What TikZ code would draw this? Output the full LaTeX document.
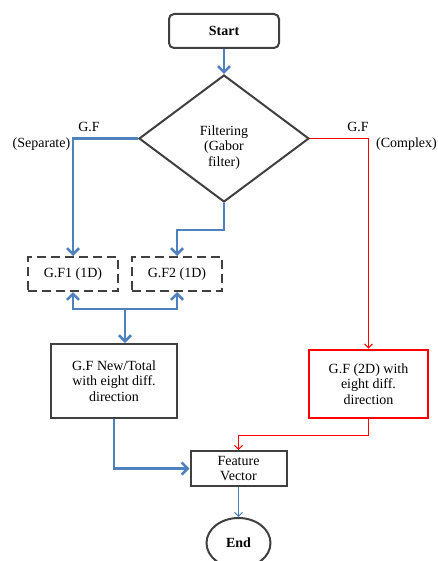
\documentclass[tikz,border=0pt]{standalone}
\usepackage{fontspec}
\setmainfont{Liberation Serif}
\usetikzlibrary{shapes.geometric,arrows.meta}

\begin{document}
\begin{tikzpicture}[x=1pt,y=-1pt,>={Straight Barb[length=6pt,width=12pt]}, line width=2pt, font=\fontsize{14}{15.5}\selectfont]
                \definecolor{flowblue}{RGB}{79,129,189}
                \definecolor{boxgray}{RGB}{64,64,64}
                \tikzstyle{block} = [draw=boxgray, rectangle, align=center, inner sep=0pt]
                \tikzstyle{dashblock} = [block, dash pattern=on 9pt off 5pt, minimum width=90pt, minimum height=34pt]
                \tikzstyle{blueline} = [draw=flowblue, line width=2.6pt]
                \tikzstyle{redline} = [draw=red, line width=1pt, >={Straight Barb[length=4pt,width=8pt]}]

                \useasboundingbox (0,0) rectangle (437,561);

                % Top: start and filtering
                \node[block, rounded corners=5pt, minimum width=110pt, minimum height=34pt, font=\fontsize{14}{15.5}\selectfont\bfseries] (start) at (224,31) {Start};
                \node[block, diamond, minimum width=170pt, minimum height=127pt,
                      label={[name=filttext, align=center, yshift=-9pt]center:Filtering\\(Gabor\\filter)}] (filt) at (224,138.5) {};

                % Separate branch boxes
                \node[dashblock] (gf1) at (73,274) {G.F1 (1D)};
                \node[dashblock] (gf2) at (177,274) {G.F2 (1D)};
                \node[block, minimum width=126pt, minimum height=74pt] (gfnew) at (114,381) {G.F New/Total\\with eight diff.\\direction};

                % Complex branch box
                \node[block, draw=red, line width=2.8pt, minimum width=119pt, minimum height=68pt] (gf2d) at (368.5,384) {G.F (2D) with\\eight diff.\\direction};

                % Bottom: feature vector and end
                \node[block, minimum width=96pt, minimum height=35pt] (fv) at (238.5,468.5) {Feature\\Vector};
                \node[ellipse, draw=boxgray, minimum width=64pt, minimum height=50pt, font=\fontsize{14}{15.5}\selectfont\bfseries] (endn) at (238.5,543) {End};

                % Blue lines
                \draw[blueline, ->] (start) -- (filt);
                \draw[blueline, ->] (filt.west) -| (gf1.north);
                \draw[blueline, ->] (filt.south) -- ++(0,27) -| (gf2.north);
                \coordinate (split) at (125,309);
                \draw[blueline, <->] (gf1.south) |- (split) -| (gf2.south);
                \draw[blueline, ->] (split) -- (split |- gfnew.north);
                \draw[blueline, ->] (gfnew.south) |- (fv.west);
                \draw[draw=flowblue, line width=0.9pt, ->, >={Straight Barb[length=4pt,width=8pt]}] (fv) -- (endn);

                % Red lines
                \draw[redline, ->] (filt.east) -| (gf2d.north);
                \draw[redline, ->] (gf2d.south) -- ++(0,16) -| (fv.north);

                % Labels
                \node (sepgf) at (89,127) {G.F};
                \node (seplbl) at (41.5,144) {(Separate)};
                \node (cplgf) at (358,127) {G.F};
                \node (cpllbl) at (406.5,144) {(Complex)};
            \end{tikzpicture}
\end{document}
